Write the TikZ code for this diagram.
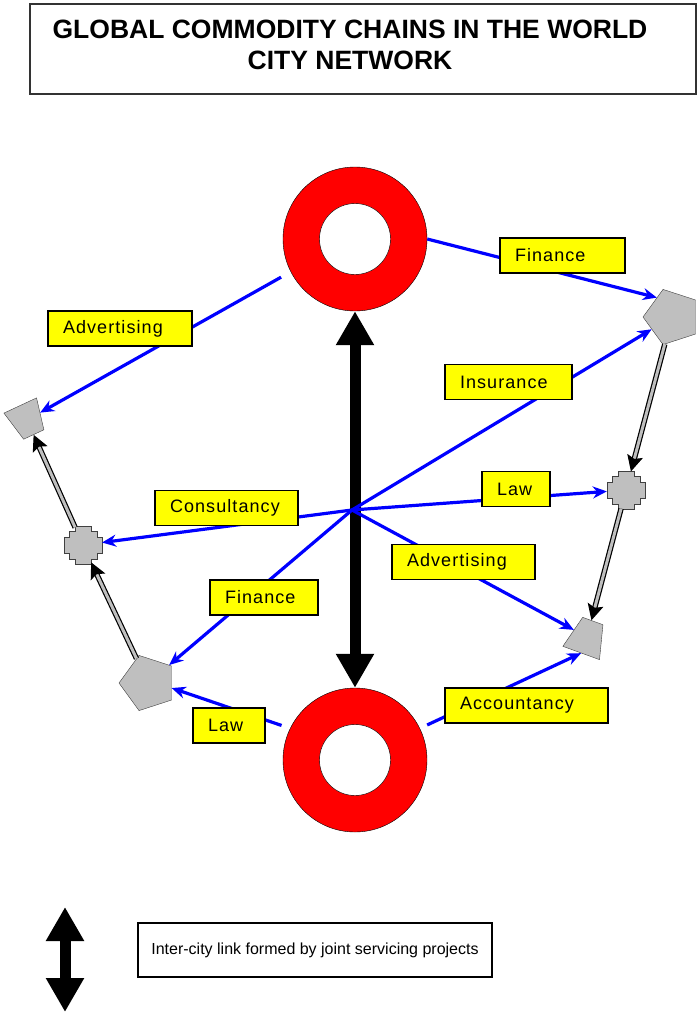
\documentclass[tikz,border=0pt]{standalone}
\usepackage{fontspec}
\setmainfont{Liberation Sans}
\newfontfamily\tagfont[LetterSpace=6]{Liberation Sans}
\usetikzlibrary{arrows.meta,shapes.geometric}
\definecolor{ringred}{rgb}{1,0,0}
\definecolor{linkblue}{rgb}{0,0,1}
\definecolor{tagyellow}{rgb}{1,1,0}
\definecolor{firmgray}{rgb}{0.75,0.75,0.75}
\hyphenpenalty=10000

\tikzset{
  ring/.style={circle,draw=black,fill=ringred,minimum size=144pt,inner sep=0pt},
  hole/.style={circle,draw=black,fill=white,minimum size=71pt,inner sep=0pt},
  pent/.style={regular polygon,regular polygon sides=5,shape border rotate=90,
    draw=black!75,fill=firmgray,minimum size=58pt,inner sep=0pt},
  trap/.style={trapezium,trapezium stretches=true,draw=black!75,fill=firmgray,inner sep=2pt},
  crossnode/.style={circle,minimum size=38pt,inner sep=0pt},
  tag/.style={draw=black,line width=1.3pt,fill=tagyellow,minimum height=35pt,
    text width=#1,align=left,inner xsep=15pt,font=\tagfont\fontsize{18}{20}\selectfont},
  service/.style={->,draw=linkblue,line width=3.2pt},
  supply/.style={-{Stealth[length=16pt,width=16pt,inset=3pt]},line width=1.2pt,
    double=firmgray,double distance=3pt},
  citylink/.style={{Triangle[length=34pt,width=36pt]}-{Triangle[length=34pt,width=36pt]},
    line width=11pt},
}
% cross shaped firm drawn round a named node
\newcommand\drawplus[1]{\draw[draw=black!75,fill=firmgray,shift={(#1.center)}]
  (19,-8) -- (19,8) -- (14,8) -- (14,14) -- (8,14) -- (8,19) -- (-8,19) -- (-8,14)
  -- (-14,14) -- (-14,8) -- (-19,8) -- (-19,-8) -- (-14,-8) -- (-14,-14) -- (-8,-14)
  -- (-8,-19) -- (8,-19) -- (8,-14) -- (14,-14) -- (14,-8) -- cycle;}

\begin{document}
\begin{tikzpicture}[x=1pt,y=-1pt,>={Stealth[length=14pt,width=12pt]}]
\useasboundingbox (0,0) rectangle (698,1015);
\node[draw=black!80,line width=2pt,minimum width=666pt,minimum height=90pt] (titlebox) at (363,49) {};
\node[align=center,font=\bfseries\fontsize{26.5}{31}\selectfont] (title) at (350,45)
  {GLOBAL COMMODITY CHAINS IN THE WORLD\\CITY NETWORK};
% cities
\node[ring] (north) at (355,239) {};
\node[hole] (northhole) at (north) {};
\node[ring] (south) at (355,760) {};
\node[hole] (southhole) at (south) {};
% firms
\node[trap,minimum width=36pt,minimum height=32pt,trapezium angle=73,rotate=205] (trapL) at (27,420) {};
\node[crossnode] (crossL) at (83,545) {}; \drawplus{crossL}
\node[pent] (pentL) at (148,683) {};
\node[pent] (pentR) at (672,317) {};
\node[crossnode] (crossR) at (626,490) {}; \drawplus{crossR}
\node[trap,minimum width=39pt,minimum height=34pt,trapezium angle=68,rotate=-20] (trapR) at (587,637) {};
% inter-city link
\draw[citylink] (north.south) -- (south.north);
% servicing
\coordinate (hub) at (352,510);
\draw[service,shorten <=11pt] (north.207) -- (trapL);
\draw[service] (north.east) -- (pentR.128);
\draw[service] (hub) -- (pentR);
\draw[service] (hub) -- (crossR);
\draw[service] (hub) -- (crossL);
\draw[service] (hub) -- (trapR);
\draw[service] (hub) -- (pentL);
\draw[service,shorten <=9pt] (south.154) -- (pentL.348);
\draw[service,shorten <=8pt] (south.26) -- (trapR.south);
% commodity chains
\draw[supply] (crossL) -- (trapL);
\draw[supply] (pentL) -- (crossL);
\draw[supply] (pentR) -- (crossR);
\draw[supply] (crossR) -- (trapR);
% services
\node[tag=95pt] (finT) at (562.5,255.5) {Finance};
\node[tag=114pt] (advL) at (120,328.5) {Advertising};
\node[tag=97pt] (ins) at (508.5,382) {Insurance};
\node[tag=38pt] (lawR) at (516,489) {Law};
\node[tag=113pt] (cons) at (226.5,508) {Consultancy};
\node[tag=113pt] (advC) at (463.5,562) {Advertising};
\node[tag=78pt] (finL) at (264,597.5) {Finance};
\node[tag=133pt] (acc) at (526.5,705.5) {Accountancy};
\node[tag=42pt] (lawL) at (229,725.5) {Law};
% legend
\coordinate (legtop) at (65,907);
\coordinate (legbot) at (65,1012);
\draw[citylink] (legtop) -- (legbot);
\node[draw=black,line width=1.3pt,minimum width=354pt,minimum height=54pt,
  font=\fontsize{16}{18}\selectfont] (legend) at (315,950)
  {Inter-city link formed by joint servicing projects};
\end{tikzpicture}
\end{document}
